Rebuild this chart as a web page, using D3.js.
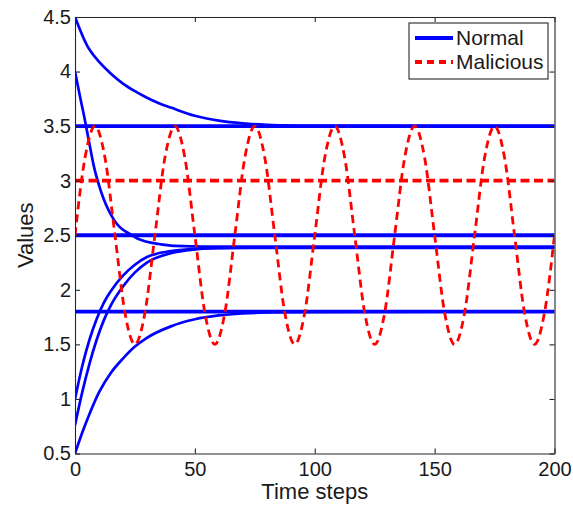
<!DOCTYPE html>
<html>
<head>
<meta charset="utf-8">
<script src="https://cdn.jsdelivr.net/npm/d3@7"></script>
<style>
  body { margin: 0; background: #fff; }
  text { font-family: "Liberation Sans", Arial, sans-serif; fill: #1a1a1a; }
</style>
</head>
<body>
<div id="chart"></div>
<script>
// axis ticks
const xTicks = [0, 50, 100, 150, 200];
const yTicks = [0.5, 1, 1.5, 2, 2.5, 3, 3.5, 4, 4.5];

// normal agents that hold their value
const constT = [0, 200];
const normalFlat1 = [3.5, 3.5];
const normalFlat2 = [2.5, 2.5];
const normalFlat3 = [1.8, 1.8];

// normal agents that converge
const normalA_t = [0, 5, 10, 15, 20, 25, 30, 35, 40, 50, 60, 70, 80, 100, 200];
const normalA_v = [4.5, 4.24, 4.09, 3.98, 3.89, 3.82, 3.76, 3.71, 3.67, 3.595, 3.55, 3.525, 3.512, 3.503, 3.5];

const normalB_t = [0, 2, 4, 6, 8, 10, 12, 14, 16, 18, 20, 23, 26, 30, 35, 40, 50, 60, 200];
const normalB_v = [4.0, 3.78, 3.57, 3.34, 3.12, 2.96, 2.83, 2.73, 2.65, 2.59, 2.55, 2.51, 2.47, 2.44, 2.42, 2.405, 2.398, 2.395, 2.395];

const normalC_t = [0, 3, 6, 9, 12, 15, 20, 25, 30, 40, 50, 60, 80, 200];
const normalC_v = [1.0, 1.30, 1.54, 1.73, 1.88, 1.99, 2.13, 2.23, 2.30, 2.355, 2.375, 2.382, 2.385, 2.385];

const normalD_t = [0, 3, 6, 9, 12, 15, 20, 25, 30, 40, 50, 60, 80, 200];
const normalD_v = [0.76, 1.06, 1.32, 1.54, 1.72, 1.86, 2.03, 2.16, 2.25, 2.335, 2.37, 2.383, 2.39, 2.39];

const normalE_t = [0, 3, 6, 10, 15, 20, 25, 30, 40, 50, 60, 70, 80, 100, 200];
const normalE_v = [0.5, 0.69, 0.86, 1.06, 1.24, 1.37, 1.48, 1.56, 1.665, 1.73, 1.765, 1.783, 1.792, 1.798, 1.8];

// malicious agents
const maliciousFlat = [3.0, 3.0];
const maliciousWave_t = [0, 4.17, 8.33, 12.5, 16.67, 20.83, 25, 29.17, 33.33, 37.5, 41.67, 45.83,
  50, 54.17, 58.33, 62.5, 66.67, 70.83, 75, 79.17, 83.33, 87.5, 91.67, 95.83,
  100, 104.17, 108.33, 112.5, 116.67, 120.83, 125, 129.17, 133.33, 137.5, 141.67, 145.83,
  150, 154.17, 158.33, 162.5, 166.67, 170.83, 175, 179.17, 183.33, 187.5, 191.67, 195.83, 200];
const maliciousWave_v = [2.5, 3.21, 3.5, 3.21, 2.5, 1.79, 1.5, 1.79,
  2.5, 3.21, 3.5, 3.21, 2.5, 1.79, 1.5, 1.79,
  2.5, 3.21, 3.5, 3.21, 2.5, 1.79, 1.5, 1.79,
  2.5, 3.21, 3.5, 3.21, 2.5, 1.79, 1.5, 1.79,
  2.5, 3.21, 3.5, 3.21, 2.5, 1.79, 1.5, 1.79,
  2.5, 3.21, 3.5, 3.21, 2.5, 1.79, 1.5, 1.79, 2.5];

const legendLabels = ['Normal', 'Malicious'];

const width = 573, height = 505;
const plotLeft = 75, plotRight = 554.5, plotTop = 17, plotBottom = 453.5;

const svg = d3.select('#chart').append('svg')
  .attr('width', width)
  .attr('height', height);

const x = d3.scaleLinear().domain([0, 200]).range([plotLeft, plotRight]);
const y = d3.scaleLinear().domain([0.5, 4.5]).range([plotBottom, plotTop]);

svg.append('clipPath').attr('id', 'plot')
  .append('rect')
  .attr('x', plotLeft).attr('y', plotTop)
  .attr('width', plotRight - plotLeft).attr('height', plotBottom - plotTop);

const zip = (ts, vs) => ts.map((t, i) => [t, vs[i]]);
const line = d3.line()
  .x(d => x(d[0]))
  .y(d => y(d[1]))
  .curve(d3.curveMonotoneX);

const plot = svg.append('g').attr('clip-path', 'url(#plot)');

const curves = [
  zip(normalA_t, normalA_v), zip(normalB_t, normalB_v), zip(normalC_t, normalC_v),
  zip(normalD_t, normalD_v), zip(normalE_t, normalE_v)
];
plot.selectAll('path.curve')
  .data(curves)
  .enter()
  .append('path')
  .attr('class', 'curve')
  .attr('d', line)
  .attr('fill', 'none')
  .attr('stroke', '#0000ff')
  .attr('stroke-width', 2.7);

const flats = [zip(constT, normalFlat1), zip(constT, normalFlat2), zip(constT, normalFlat3)];
plot.selectAll('path.flat')
  .data(flats)
  .enter()
  .append('path')
  .attr('class', 'flat')
  .attr('d', line)
  .attr('fill', 'none')
  .attr('stroke', '#0000ff')
  .attr('stroke-width', 3.8);

// malicious agents drawn after the normal ones
plot.append('path')
  .attr('d', line(zip(maliciousWave_t, maliciousWave_v)))
  .attr('fill', 'none')
  .attr('stroke', '#ff0000')
  .attr('stroke-width', 2.8)
  .attr('stroke-dasharray', '8,5');

plot.append('path')
  .attr('d', line(zip(constT, maliciousFlat)))
  .attr('fill', 'none')
  .attr('stroke', '#ff0000')
  .attr('stroke-width', 3.8)
  .attr('stroke-dasharray', '9,4.5');

// axes box, ticks pointing inwards (MATLAB style)
function styleAxis(g) {
  g.attr('font-family', null).attr('font-size', null);
  g.selectAll('path, line').attr('stroke', '#262626').attr('stroke-width', 1.1);
  g.selectAll('text').style('font-size', '20px').attr('fill', '#1a1a1a');
}

svg.append('g')
  .attr('transform', `translate(0,${plotBottom})`)
  .call(d3.axisBottom(x).tickValues(xTicks).tickSizeInner(-5).tickSizeOuter(0).tickPadding(8))
  .call(styleAxis);

svg.append('g')
  .attr('transform', `translate(${plotLeft},0)`)
  .call(d3.axisLeft(y).tickValues(yTicks).tickFormat(d => String(d)).tickSizeInner(-5).tickSizeOuter(0).tickPadding(4))
  .call(styleAxis);

svg.append('g')
  .attr('transform', `translate(0,${plotTop})`)
  .call(d3.axisTop(x).tickValues(xTicks).tickFormat('').tickSizeInner(-5).tickSizeOuter(0))
  .call(styleAxis);

svg.append('g')
  .attr('transform', `translate(${plotRight},0)`)
  .call(d3.axisRight(y).tickValues(yTicks).tickFormat('').tickSizeInner(-5).tickSizeOuter(0))
  .call(styleAxis);

// axis titles
svg.append('text')
  .attr('x', (plotLeft + plotRight) / 2)
  .attr('y', 499)
  .attr('text-anchor', 'middle')
  .style('font-size', '22px')
  .text('Time steps');

svg.append('text')
  .attr('transform', `translate(33,${(plotTop + plotBottom) / 2}) rotate(-90)`)
  .attr('text-anchor', 'middle')
  .style('font-size', '22px')
  .text('Values');

// legend
const legend = svg.append('g').attr('transform', 'translate(409,23)');
legend.append('rect')
  .attr('width', 139).attr('height', 56)
  .attr('fill', '#fff')
  .attr('stroke', '#262626')
  .attr('stroke-width', 1.1);

const legendY = [15, 39];
legend.selectAll('line')
  .data(legendLabels)
  .enter()
  .append('line')
  .attr('x1', 6).attr('x2', 44)
  .attr('y1', (d, i) => legendY[i]).attr('y2', (d, i) => legendY[i])
  .attr('stroke', (d, i) => i === 0 ? '#0000ff' : '#ff0000')
  .attr('stroke-width', 3.8)
  .attr('stroke-dasharray', (d, i) => i === 0 ? null : '7,5');

legend.selectAll('text')
  .data(legendLabels)
  .enter()
  .append('text')
  .attr('x', 47)
  .attr('y', (d, i) => legendY[i])
  .attr('dy', '0.35em')
  .style('font-size', '21px')
  .text(d => d);
</script>
</body>
</html>
